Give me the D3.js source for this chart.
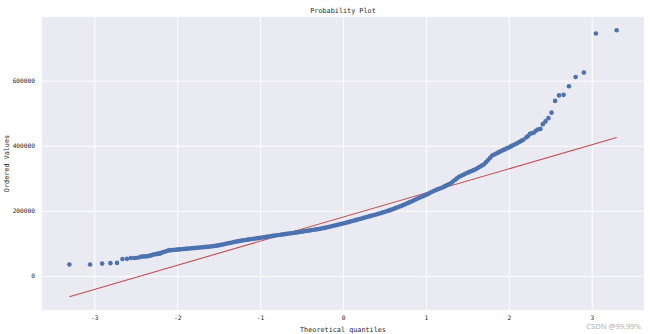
<!DOCTYPE html>
<html>
<head>
<meta charset="utf-8">
<script src="https://cdn.jsdelivr.net/npm/d3@7"></script>
<style>
  html, body { margin: 0; padding: 0; background: #ffffff; }
  svg { display: block; }
</style>
</head>
<body>
<svg id="chart" width="650" height="334"></svg>
<script>
// Normal probability plot of sale prices: ordered values against theoretical quantiles.

// Lowest ordered observations (theoretical quantile, value)
const lowQuantiles = [-3.300, -3.050, -2.905, -2.805, -2.725, -2.660, -2.605, -2.558, -2.515, -2.477,
  -2.442, -2.410, -2.381, -2.350, -2.325, -2.300, -2.277, -2.254, -2.232, -2.212];
const lowValues = [34900, 35311, 37900, 39300, 40000, 52000, 52500, 55000, 55000, 55993,
  58500, 60000, 60000, 61000, 62383, 64500, 66500, 67000, 68400, 68500];

// Body of the distribution
const midQuantiles = [
  -2.200, -2.175, -2.150, -2.125, -2.100, -2.075, -2.050, -2.025, -2.000, -1.975,
  -1.950, -1.925, -1.900, -1.875, -1.850, -1.825, -1.800, -1.775, -1.750, -1.725,
  -1.700, -1.675, -1.650, -1.625, -1.600, -1.575, -1.550, -1.525, -1.500, -1.475,
  -1.450, -1.425, -1.400, -1.375, -1.350, -1.325, -1.300, -1.275, -1.250, -1.225,
  -1.200, -1.175, -1.150, -1.125, -1.100, -1.075, -1.050, -1.025, -1.000, -0.975,
  -0.950, -0.925, -0.900, -0.875, -0.850, -0.825, -0.800, -0.775, -0.750, -0.725,
  -0.700, -0.675, -0.650, -0.625, -0.600, -0.575, -0.550, -0.525, -0.500, -0.475,
  -0.450, -0.425, -0.400, -0.375, -0.350, -0.325, -0.300, -0.275, -0.250, -0.225,
  -0.200, -0.175, -0.150, -0.125, -0.100, -0.075, -0.050, -0.025, 0.000, 0.025,
  0.050, 0.075, 0.100, 0.125, 0.150, 0.175, 0.200, 0.225, 0.250, 0.275,
  0.300, 0.325, 0.350, 0.375, 0.400, 0.425, 0.450, 0.475, 0.500, 0.525,
  0.550, 0.575, 0.600, 0.625, 0.650, 0.675, 0.700, 0.725, 0.750, 0.775,
  0.800, 0.825, 0.850, 0.875, 0.900, 0.925, 0.950, 0.975, 1.000, 1.025,
  1.050, 1.075, 1.100, 1.125, 1.150, 1.175, 1.200, 1.225, 1.250, 1.275,
  1.300, 1.325, 1.350, 1.375, 1.400, 1.425, 1.450, 1.475, 1.500, 1.525,
  1.550, 1.575, 1.600, 1.625, 1.650, 1.675, 1.700, 1.725, 1.750, 1.775,
  1.800, 1.825, 1.850, 1.875, 1.900, 1.925, 1.950, 1.975, 2.000, 2.025,
  2.050, 2.075, 2.100, 2.125, 2.150, 2.175];
const midValues = [
  70500, 72500, 74500, 76500, 78500, 79200, 79800, 80400, 81000, 81500,
  82100, 82600, 83200, 83800, 84300, 84900, 85500, 86100, 86700, 87400,
  88000, 88600, 89200, 89900, 90500, 91400, 92200, 93100, 94000, 95400,
  96700, 98100, 99500, 100900, 102200, 103600, 105000, 106100, 107200, 108400,
  109500, 110500, 111500, 112500, 113500, 114400, 115200, 116100, 117000, 118000,
  119000, 120000, 121000, 122000, 123000, 124000, 125000, 125900, 126700, 127600,
  128500, 129400, 130200, 131100, 132000, 133000, 134000, 135000, 136000, 137000,
  138000, 139000, 140000, 141000, 142000, 143000, 144000, 145200, 146500, 147700,
  149000, 150500, 152000, 153500, 155000, 156500, 158000, 159500, 161000, 162700,
  164500, 166200, 168000, 169700, 171500, 173200, 175000, 176700, 178500, 180200,
  182000, 183700, 185500, 187200, 189000, 190900, 192700, 194600, 196500, 198600,
  200700, 202900, 205000, 207500, 210000, 212500, 215000, 217700, 220500, 223200,
  226000, 229000, 232000, 235000, 238000, 240700, 243500, 246200, 249000, 252200,
  255500, 258700, 262000, 264500, 267000, 269500, 272000, 275200, 278500, 281700,
  285000, 290000, 295000, 300000, 305000, 308000, 311000, 314000, 317000, 319700,
  322500, 325200, 328000, 331700, 335500, 339200, 343000, 349700, 356500, 363200,
  370000, 373200, 376500, 379700, 383000, 386000, 389000, 392000, 395000, 398200,
  401500, 404700, 408000, 411500, 415000, 418500];

// Highest ordered observations
const highQuantiles = [2.212, 2.232, 2.254, 2.277, 2.300, 2.325, 2.350, 2.381, 2.410, 2.442,
  2.477, 2.515, 2.558, 2.605, 2.660, 2.725, 2.805, 2.905, 3.050, 3.300];
const highValues = [426000, 430000, 437154, 438780, 440000, 446261, 450000, 451950, 466500, 475000,
  485000, 501837, 538000, 555000, 556581, 582933, 611657, 625000, 745000, 755000];

// Least-squares fit of the ordered values on the quantiles
const fitSlope = 74160.16;
const fitIntercept = 180921.2;

// Axis ticks
const xTicks = [-3, -2, -1, 0, 1, 2, 3];
const yTicks = [0, 200000, 400000, 600000];

const quantiles = lowQuantiles.concat(midQuantiles, highQuantiles);
const values = lowValues.concat(midValues, highValues);
const points = quantiles.map((q, i) => ({ q, v: values[i] }));

const qMin = d3.min(quantiles), qMax = d3.max(quantiles);
const fitLine = [qMin, qMax].map(q => ({ q, v: fitIntercept + fitSlope * q }));

// Axis limits with a 5% margin around everything drawn
const xPad = (qMax - qMin) * 0.05;
const yLo = Math.min(d3.min(values), fitLine[0].v);
const yHi = Math.max(d3.max(values), fitLine[1].v);
const yPad = (yHi - yLo) * 0.05;

const plot = { left: 42, right: 644, top: 17, bottom: 310 };

const x = d3.scaleLinear().domain([qMin - xPad, qMax + xPad]).range([plot.left, plot.right]);
const y = d3.scaleLinear().domain([yLo - yPad, yHi + yPad]).range([plot.bottom, plot.top]);

const svg = d3.select("#chart");
const ink = "#262626";
const mono = "'DejaVu Sans Mono', 'Liberation Mono', monospace";

svg.append("rect")
  .attr("x", plot.left).attr("y", plot.top)
  .attr("width", plot.right - plot.left).attr("height", plot.bottom - plot.top)
  .attr("fill", "#eaeaf2");

// Grid lines
const xAxis = svg.append("g")
  .attr("transform", `translate(0,${plot.bottom})`)
  .call(d3.axisBottom(x).tickValues(xTicks).tickFormat(d3.format("d"))
    .tickSize(-(plot.bottom - plot.top)).tickPadding(6));
const yAxis = svg.append("g")
  .attr("transform", `translate(${plot.left},0)`)
  .call(d3.axisLeft(y).tickValues(yTicks).tickFormat(d3.format("d"))
    .tickSize(-(plot.right - plot.left)).tickPadding(7));

[xAxis, yAxis].forEach(g => {
  g.select(".domain").remove();
  g.selectAll(".tick line").attr("stroke", "#ffffff").attr("stroke-width", 1);
  g.selectAll(".tick text")
    .attr("fill", ink)
    .style("font-family", mono)
    .style("font-size", "6.2px");
});
xAxis.selectAll(".tick text").text(d => String(d).replace("\u2212", "-"));

// Fitted line
svg.append("path")
  .datum(fitLine)
  .attr("fill", "none")
  .attr("stroke", "#c44e52")
  .attr("stroke-width", 1.1)
  .attr("d", d3.line().x(d => x(d.q)).y(d => y(d.v)));

// Ordered values
svg.append("g")
  .selectAll("circle")
  .data(points)
  .join("circle")
  .attr("cx", d => x(d.q))
  .attr("cy", d => y(d.v))
  .attr("r", 2.3)
  .attr("fill", "#4c72b0");

// Titles
svg.append("text")
  .attr("x", (plot.left + plot.right) / 2).attr("y", 12.5)
  .attr("text-anchor", "middle")
  .attr("fill", ink)
  .style("font-family", mono).style("font-size", "6.8px")
  .text("Probability Plot");

svg.append("text")
  .attr("x", (plot.left + plot.right) / 2).attr("y", 331.5)
  .attr("text-anchor", "middle")
  .attr("fill", ink)
  .style("font-family", mono).style("font-size", "6.8px")
  .text("Theoretical quantiles");

svg.append("text")
  .attr("transform", `translate(8.5,${(plot.top + plot.bottom) / 2}) rotate(-90)`)
  .attr("text-anchor", "middle")
  .attr("fill", ink)
  .style("font-family", mono).style("font-size", "6.8px")
  .text("Ordered Values");

svg.append("text")
  .attr("x", 641).attr("y", 329)
  .attr("text-anchor", "end")
  .attr("fill", "#b0b0b0")
  .style("font-family", "'Noto Sans', sans-serif").style("font-size", "7.6px")
  .text("CSDN @99.99%");
</script>
</body>
</html>
